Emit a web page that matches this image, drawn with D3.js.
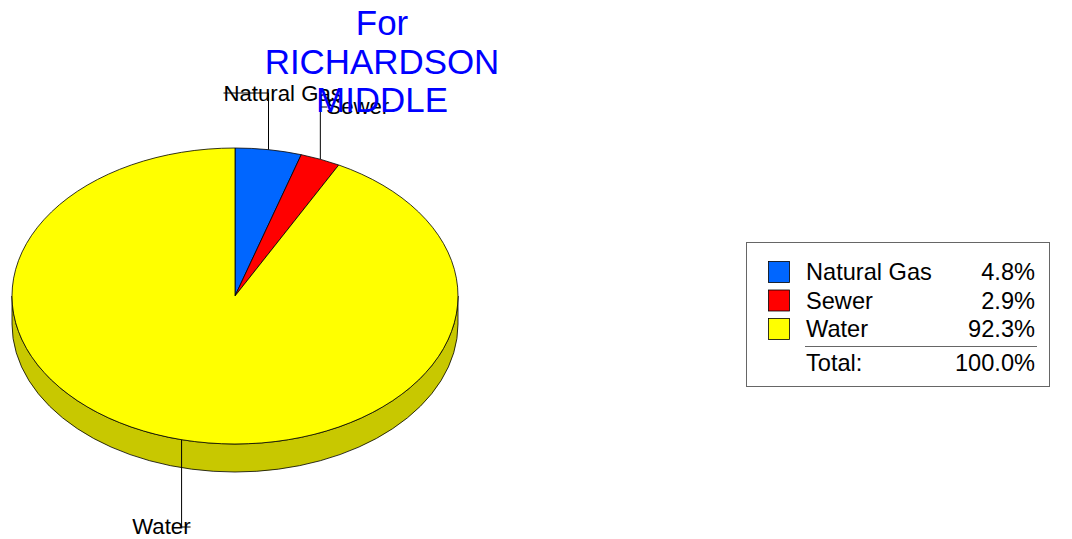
<!DOCTYPE html>
<html>
<head>
<meta charset="utf-8">
<script src="https://cdn.jsdelivr.net/npm/d3@7/dist/d3.min.js"></script>
<style>
  html, body { margin: 0; padding: 0; background: #fff; }
  svg { display: block; font-family: "Liberation Sans", Arial, Helvetica, sans-serif; }
</style>
</head>
<body>
<svg id="chart" width="1072" height="539"></svg>
<script>
// Utility cost shares (percent)
const categories = ["Natural Gas", "Sewer", "Water"];
const shares = [4.8, 2.9, 92.3];
const colors = ["#0066ff", "#ff0000", "#ffff00"];
const sideColors = ["#0050c8", "#c80000", "#c8c800"];
const titleLines = ["For", "RICHARDSON", "MIDDLE"];
const totalLabel = "Total:";

const svg = d3.select("#chart");

// Pie geometry (elliptical top face + extruded rim)
const cx = 235, cy = 296, rx = 223, ry = 148, depth = 28;
const pt = (a, dy = 0) => [cx + rx * Math.sin(a), cy - ry * Math.cos(a) + dy];

const data = categories.map((c, i) => ({ name: c, value: shares[i], color: colors[i], side: sideColors[i] }));
const arcs = d3.pie().sort(null).value(d => d.value).startAngle(0).endAngle(2 * Math.PI)(data);

// Rim: only the front half (from 3 o'clock round to 9 o'clock) is visible
const rimLayer = svg.append("g");
arcs.forEach(a => {
  const a0 = Math.max(a.startAngle, Math.PI / 2);
  const a1 = Math.min(a.endAngle, 3 * Math.PI / 2);
  if (a1 <= a0) return;
  const p0 = pt(a0), p1 = pt(a1), q1 = pt(a1, depth), q0 = pt(a0, depth);
  const large = (a1 - a0) > Math.PI ? 1 : 0;
  const path = `M${p0}A${rx},${ry} 0 ${large} 1 ${p1}L${q1}A${rx},${ry} 0 ${large} 0 ${q0}Z`;
  rimLayer.append("path").attr("d", path)
    .attr("fill", a.data.side).attr("stroke", "#000").attr("stroke-width", 0.8);
});

// Top face slices
const faceLayer = svg.append("g");
arcs.forEach(a => {
  const p0 = pt(a.startAngle), p1 = pt(a.endAngle);
  const large = (a.endAngle - a.startAngle) > Math.PI ? 1 : 0;
  faceLayer.append("path")
    .attr("d", `M${cx},${cy}L${p0}A${rx},${ry} 0 ${large} 1 ${p1}Z`)
    .attr("fill", a.data.color).attr("stroke", "#000").attr("stroke-width", 0.8)
    .attr("stroke-linejoin", "round");
});

// Slice labels with leader lines from the mid-angle of each slice edge
const labelLayout = [
  { y: 93, hx: -45, tx: -45, ty: 101, anchor: "start" },
  { y: 107, hx: 7, tx: 6, ty: 114, anchor: "start" },
  { y: 527, hx: 9, tx: 9, ty: 534, anchor: "end" }
];
const labelLayer = svg.append("g");
arcs.forEach((a, i) => {
  const mid = (a.startAngle + a.endAngle) / 2;
  const [x, y] = pt(mid);
  const L = labelLayout[i];
  labelLayer.append("text")
    .attr("x", x + L.tx).attr("y", L.ty)
    .attr("text-anchor", L.anchor)
    .attr("font-size", 22.2).attr("fill", "#000")
    .text(a.data.name);
  labelLayer.append("path")
    .attr("d", `M${x},${y}L${x},${L.y}L${x + L.hx},${L.y}`)
    .attr("fill", "none").attr("stroke", "#000").attr("stroke-width", 1);
});

// Title
const title = svg.append("text")
  .attr("x", 382).attr("text-anchor", "middle")
  .attr("font-size", 34.9).attr("fill", "#0000ff");
titleLines.forEach((t, i) => {
  title.append("tspan").attr("x", 382).attr("y", 35 + i * 38.5).text(t);
});

// Legend
const lg = svg.append("g").attr("transform", "translate(746,242)");
lg.append("rect").attr("x", 0.5).attr("y", 0.5).attr("width", 303).attr("height", 144)
  .attr("fill", "#fff").attr("stroke", "#666").attr("stroke-width", 1);
const rowY = d3.scaleLinear().domain([0, 1]).range([19, 47.5]);
const fmt = v => v.toFixed(1) + "%";
data.forEach((d, i) => {
  const y = rowY(i);
  lg.append("rect").attr("x", 22.5).attr("y", y + 0.5).attr("width", 21).attr("height", 21)
    .attr("fill", d.color).attr("stroke", "#000").attr("stroke-width", 0.8);
  lg.append("text").attr("x", 60).attr("y", y + 19).attr("font-size", 23.6).text(d.name);
  lg.append("text").attr("x", 289).attr("y", y + 19).attr("font-size", 23.6)
    .attr("text-anchor", "end").text(fmt(d.value));
});
lg.append("line").attr("x1", 59).attr("x2", 291).attr("y1", 104.5).attr("y2", 104.5)
  .attr("stroke", "#666").attr("stroke-width", 1);
lg.append("text").attr("x", 60).attr("y", 129).attr("font-size", 23.6).text(totalLabel);
lg.append("text").attr("x", 289).attr("y", 129).attr("font-size", 23.6)
  .attr("text-anchor", "end").text(fmt(d3.sum(shares)));
</script>
</body>
</html>
